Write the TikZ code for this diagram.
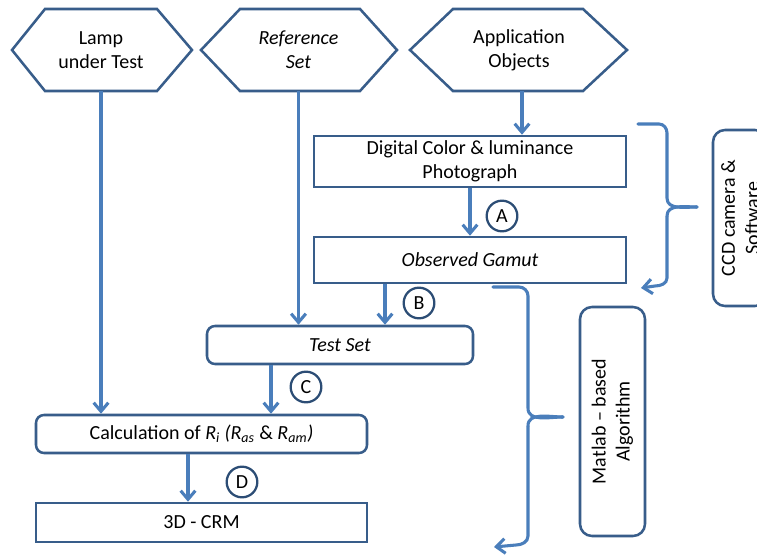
\documentclass[tikz,border=0pt]{standalone}
\usepackage{fontspec}
\setmainfont{Carlito}
\usetikzlibrary{arrows.meta,calc}
\definecolor{arrblue}{HTML}{4A7EBB}
\definecolor{boxblue}{HTML}{385D8A}
\definecolor{circblue}{HTML}{2C4D75}
\tikzset{
  txt/.style={font=\fontsize{15}{18}\selectfont, align=center, inner sep=0pt},
  hexshape/.style={draw=boxblue, line width=1.9pt, line join=miter},
  sqbox/.style={txt, draw=boxblue, line width=1.9pt},
  rbox/.style={txt, draw=boxblue, line width=1.9pt, rounded corners=6pt},
  sidebox/.style={txt, draw=boxblue, line width=1.9pt, rounded corners=9pt, rotate=90},
  lbl/.style={txt, draw=circblue, line width=1.7pt, circle, minimum size=23pt},
  arr/.style={draw=arrblue, line width=2.3pt, -{Straight Barb[length=6.5pt,width=11pt,line width=2.3pt]}},
  brace/.style={draw=arrblue, line width=2.3pt, line cap=round},
}
\begin{document}
\begin{tikzpicture}[x=0.75pt,y=-0.75pt]
\useasboundingbox (0,0) rectangle (757,556);
\clip (0,0) rectangle (757,556);
\fill[white] (0,0) rectangle (757,556);
% hexagons
\draw[hexshape] (12,50) -- (45,9) -- (157,9) -- (192,50) -- (157,91) -- (45,91) -- cycle;
\draw[hexshape] (201,50) -- (240,9) -- (360,9) -- (397,50) -- (360,91) -- (240,91) -- cycle;
\draw[hexshape] (410,50) -- (453,9) -- (583,9) -- (627,50) -- (583,91) -- (453,91) -- cycle;
\node[txt, minimum width=135pt, minimum height=61.5pt] (lamp) at (101,50) {Lamp\\under Test};
\node[txt, minimum width=147pt, minimum height=61.5pt] (ref) at (298.5,50) {\itshape Reference\\\itshape Set};
\node[txt, minimum width=162pt, minimum height=61.5pt] (app) at (519,50) {Application\\Objects};
% boxes
\node[sqbox, minimum width=234pt, minimum height=38.25pt] (dig) at (470,161.5) {Digital Color \& luminance\\Photograph};
\node[sqbox, minimum width=234pt, minimum height=34.5pt] (obs) at (470,260) {\itshape Observed Gamut};
\node[rbox, minimum width=199.5pt, minimum height=28.5pt] (test) at (340,345) {\itshape Test Set};
\node[rbox, minimum width=248.25pt, minimum height=28.5pt] (calc) at (201.5,434)
  {Calculation of \textit{R}\textsubscript{\textit{i}} \textit{(R}\textsubscript{\textit{as}} \& \textit{R}\textsubscript{\textit{am}}\textit{)}};
\node[sqbox, minimum width=248.25pt, minimum height=29.25pt] (crm) at (201.5,522.5) {3D - CRM};
\node[sidebox, minimum width=132pt, minimum height=40.5pt] (ccd) at (740,218) {CCD camera \&\\Software};
\node[sidebox, minimum width=171.75pt, minimum height=48.75pt] (mat) at (612.5,421.5) {Matlab -- based\\Algorithm};
% labels
\node[lbl] (la) at (502,216) {A};
\node[lbl] (lb) at (419,303) {B};
\node[lbl] (lc) at (306,387) {C};
\node[lbl] (ld) at (242,482) {D};
% arrows
\draw[arr] ($(app.south)+(3,0)$) -- ($(dig.north)+(52,0)$);
\draw[arr] (dig.south) -- (obs.north);
\draw[arr] ($(obs.south)+(-85,0)$) -- ($(test.north)+(45,0)$);
\draw[arr] (ref.south) -- (ref.south |- test.north);
\draw[arr] (lamp.south) -- (lamp.south |- calc.north);
\draw[arr] ($(test.south)+(-69,0)$) -- ($(calc.north)+(69.5,0)$);
\draw[arr] ($(calc.south)+(-13.5,0)$) -- ($(crm.north)+(-13.5,0)$);
% braces
\coordinate (b1s) at (638,124);
\coordinate (b1t) at (697,207);
\coordinate (b1e) at (641,288);
\draw[brace] (b1s) -- (659,124) to[out=0,in=90] (667,133) -- (667,198) to[out=-90,in=180] (b1t);
\draw[brace] (b1t) to[out=180,in=90] (667,216);
\draw[arr] (667,216) -- (667,278) to[out=-90,in=0] (655,286) -- (b1e);
\coordinate (b2s) at (493,287);
\coordinate (b2t) at (563,417);
\coordinate (b2e) at (494,547);
\draw[brace] (b2s) -- (519,287) to[out=0,in=90] (528,296) -- (528,408) to[out=-90,in=180] (b2t);
\draw[brace] (b2t) to[out=180,in=90] (528,426);
\draw[arr] (528,426) -- (528,536) to[out=-90,in=0] (516,545) -- (b2e);
\end{tikzpicture}
\end{document}
